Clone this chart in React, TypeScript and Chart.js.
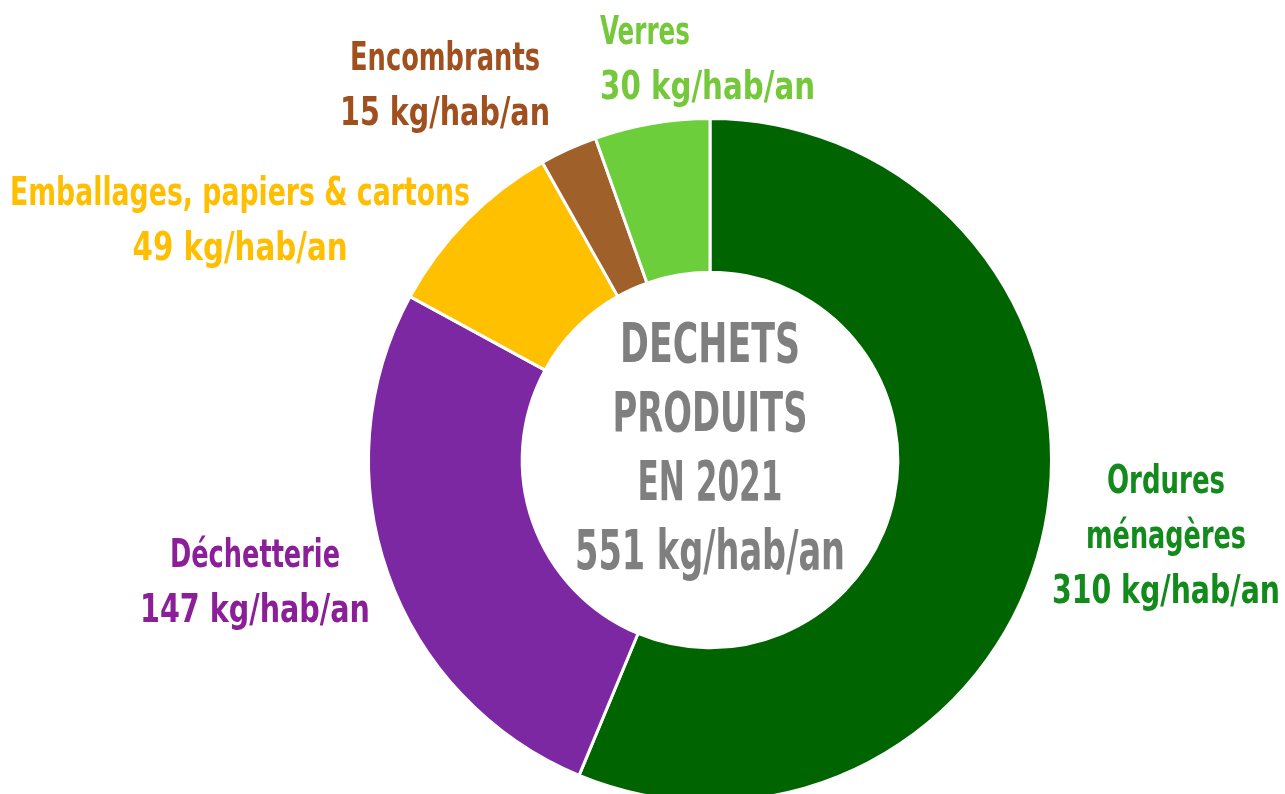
import React, { useEffect, useRef } from "react";
import { Chart, registerables } from "chart.js";

Chart.register(...registerables);

const categories = ["Ordures ménagères", "Déchetterie", "Emballages, papiers & cartons", "Encombrants", "Verres"];
const values = [310, 147, 49, 15, 30];
const sliceColors = ["#006400", "#7B28A2", "#FFC000", "#A0602A", "#6DCE3C"];
const labelColors = ["#138A1C", "#8A1F98", "#FFBE00", "#A0501E", "#74C83A"];
const labelLines = [
  ["Ordures", "ménagères", "310 kg/hab/an"],
  ["Déchetterie", "147 kg/hab/an"],
  ["Emballages, papiers & cartons", "49 kg/hab/an"],
  ["Encombrants", "15 kg/hab/an"],
  ["Verres", "30 kg/hab/an"],
];
const centerLines = ["DECHETS", "PRODUITS", "EN 2021", "551 kg/hab/an"];

// label layout: x, first line y, align, width of each line
const labelLayout: { x: number; y: number; align: CanvasTextAlign; w: number[] }[] = [
  { x: 1166, y: 483, align: "center", w: [118, 160, 228] },
  { x: 255, y: 557, align: "center", w: [170, 230] },
  { x: 240, y: 195, align: "center", w: [460, 215] },
  { x: 445, y: 60, align: "center", w: [190, 210] },
  { x: 600, y: 34, align: "left", w: [90, 215] },
];
const centerWidths = [180, 195, 145, 270];

const FONT = '"DejaVu Sans Condensed", "DejaVu Sans", sans-serif';

const labelPlugin = {
  id: "labels",
  afterDraw(chart: any) {
    const ctx = chart.ctx;
    ctx.save();
    ctx.textBaseline = "middle";
    labelLines.forEach((lines, i) => {
      const L = labelLayout[i];
      ctx.fillStyle = labelColors[i];
      ctx.textAlign = L.align;
      ctx.font = `bold 39px ${FONT}`;
      lines.forEach((t, j) => ctx.fillText(t, L.x, L.y + j * 55, L.w[j]));
    });
    const arc = chart.getDatasetMeta(0).data[0];
    const cx = arc.x;
    const cy = arc.y;
    ctx.fillStyle = "#7F7F7F";
    ctx.textAlign = "center";
    ctx.font = `bold 55px ${FONT}`;
    centerLines.forEach((t, j) => ctx.fillText(t, cx, cy - 112 + j * 69, centerWidths[j]));
    ctx.restore();
  },
};

export default function App() {
  const ref = useRef<HTMLCanvasElement>(null);
  useEffect(() => {
    if (!ref.current) return;
    const chart = new Chart(ref.current, {
      type: "doughnut",
      data: {
        labels: categories,
        datasets: [
          {
            data: values,
            backgroundColor: sliceColors,
            borderColor: "#ffffff",
            borderWidth: 3,
          },
        ],
      },
      options: {
        animation: false,
        responsive: false,
        cutout: "55%",
        layout: { padding: { left: 367, right: 232, top: 117, bottom: 17 } },
        plugins: { legend: { display: false }, tooltip: { enabled: false } },
      },
      plugins: [labelPlugin],
    });
    return () => chart.destroy();
  }, []);
  return (
    <div style={{ position: "fixed", left: 0, top: 0, width: 1285, height: 794, overflow: "hidden", background: "#fff" }}>
      <canvas ref={ref} width={1285} height={820} style={{ display: "block" }} />
    </div>
  );
}
